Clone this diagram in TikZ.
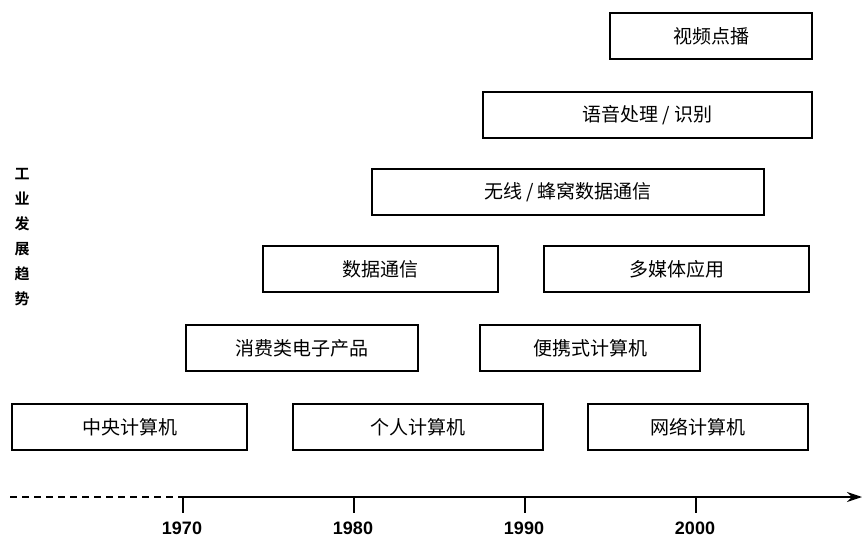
\documentclass[tikz,border=0pt]{standalone}
\usepackage{fontspec}
\setmainfont{Liberation Sans}
\newfontfamily\cjk[BoldFont={Noto Sans CJK SC Bold}]{Noto Sans CJK SC}
\usetikzlibrary{arrows.meta}
\begin{document}
\begin{tikzpicture}[x=1pt,y=-1pt,
  box/.style={draw, line width=1.4pt, inner sep=0pt, minimum height=46pt,
    font=\cjk\fontsize{19}{19}\selectfont},
  year/.style={font=\bfseries\fontsize{18}{18}\selectfont, inner sep=0pt},
  axisline/.style={line width=1.6pt},
  tickline/.style={line width=1.4pt}]
\useasboundingbox (0,0) rectangle (862,540);
% boxes
\node[box, minimum width=202pt] (vod) at (711,36) {视频点播};
\node[box, minimum width=329pt] (voice) at (647.5,115) {语音处理 / 识别};
\node[box, minimum width=392pt] (wireless) at (568,192) {无线 / 蜂窝数据通信};
\node[box, minimum width=235pt] (datacom) at (380.5,269) {数据通信};
\node[box, minimum width=265pt] (multimedia) at (676.5,269) {多媒体应用};
\node[box, minimum width=232pt] (consumer) at (302,348) {消费类电子产品};
\node[box, minimum width=220pt] (portable) at (590,348) {便携式计算机};
\node[box, minimum width=235pt] (mainframe) at (129.5,427) {中央计算机};
\node[box, minimum width=250pt] (pc) at (418,427) {个人计算机};
\node[box, minimum width=220pt] (netpc) at (698,427) {网络计算机};
% vertical label
\node[font=\cjk\bfseries\fontsize{15}{25}\selectfont, align=center, inner sep=0pt] (trend) at (22,237)
  {工\\业\\发\\展\\趋\\势};
% axis
\coordinate (a0) at (10,497);
\coordinate (t70) at (183,497);
\coordinate (t80) at (354,497);
\coordinate (t90) at (525,497);
\coordinate (t00) at (696,497);
\coordinate (aend) at (862,497);
\draw[axisline, dash pattern=on 7pt off 5pt] (a0) -- (t70);
\draw[axisline, -{Stealth[length=15pt,width=10pt]}] (t70) -- (aend);
\foreach \t in {t70,t80,t90,t00}
  \draw[tickline] (\t) -- ++(0,16);
\node[year] (l70) at (182,528) {1970};
\node[year] (l80) at (353,528) {1980};
\node[year] (l90) at (524,528) {1990};
\node[year] (l00) at (695,528) {2000};
\end{tikzpicture}
\end{document}
